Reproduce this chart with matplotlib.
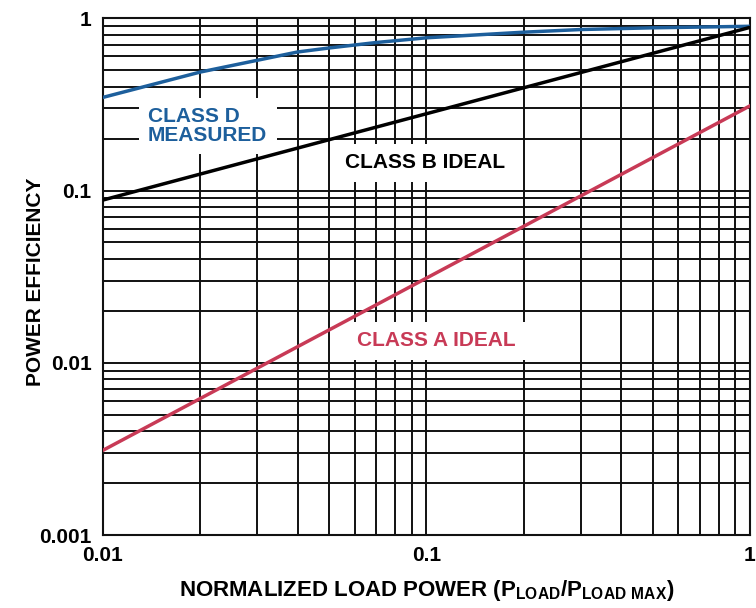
import matplotlib
matplotlib.use('Agg')
import matplotlib.pyplot as plt

# data
load = [0.01, 0.02, 0.03, 0.04, 0.05, 0.07, 0.1, 0.2, 0.3, 0.5, 1.0]
class_d = [0.347, 0.487, 0.570, 0.637, 0.672, 0.723, 0.770, 0.830, 0.860, 0.880, 0.898]
load_ideal = [0.01, 0.1, 1.0]
class_b = [0.088, 0.279, 0.885]
class_a = [0.0031, 0.031, 0.31]

y_ticks = [0.001, 0.01, 0.1, 1]
y_ticklabels = ['0.001', '0.01', '0.1', '1']
x_ticks = [0.01, 0.1, 1]
x_ticklabels = ['0.01', '0.1', '1']

blue = '#1d5f9c'
red = '#c83a56'

plt.rcParams['font.family'] = ['Liberation Sans', 'DejaVu Sans']
plt.rcParams['font.weight'] = 'bold'
plt.rcParams['mathtext.fontset'] = 'custom'
plt.rcParams['mathtext.rm'] = 'Liberation Sans:bold'
plt.rcParams['mathtext.default'] = 'regular'

fig = plt.figure(figsize=(7.56, 6.08), dpi=100)
ax = fig.add_axes([0.136, 0.12, 0.856, 0.85])

ax.set_xscale('log')
ax.set_yscale('log')
ax.set_xlim(0.01, 1)
ax.set_ylim(0.001, 1)

# full grid at every minor decade step
ax.grid(True, which='both', color='#111111', linewidth=1.4, zorder=0)
ax.set_axisbelow(True)

ax.plot(load, class_d, color=blue, linewidth=2.5, zorder=3)
ax.plot(load_ideal, class_b, color='black', linewidth=2.5, zorder=3)
ax.plot(load_ideal, class_a, color=red, linewidth=2.5, zorder=3)

box = dict(facecolor='white', edgecolor='none', boxstyle='square,pad=0.45')
ax.text(0.0138, 0.237, 'CLASS D\nMEASURED', color=blue, fontsize=15,
        fontweight='bold', ha='left', va='center', linespacing=0.95,
        bbox=box, zorder=2)
ax.text(0.099, 0.145, 'CLASS B IDEAL', color='black', fontsize=15,
        fontweight='bold', ha='center', va='center', bbox=box, zorder=2)
ax.text(0.107, 0.0134, 'CLASS A IDEAL', color=red, fontsize=15,
        fontweight='bold', ha='center', va='center', bbox=box, zorder=2)

ax.set_xticks(x_ticks)
ax.set_xticklabels(x_ticklabels)
ax.set_yticks(y_ticks)
ax.set_yticklabels(y_ticklabels)
ax.tick_params(which='both', length=0, labelsize=15, pad=8)
for lab in ax.get_xticklabels() + ax.get_yticklabels():
    lab.set_fontweight('bold')

for s in ax.spines.values():
    s.set_linewidth(1.5)
    s.set_color('#111111')

ax.set_ylabel('POWER EFFICIENCY', fontsize=15, fontweight='bold')
ax.yaxis.set_label_coords(-0.09, 0.49)
ax.set_xlabel(r'NORMALIZED LOAD POWER (P$_{LOAD}$/P$_{LOAD\ MAX}$)',
              fontsize=16, fontweight='bold', labelpad=9)

fig.savefig('out.png', dpi=100)
